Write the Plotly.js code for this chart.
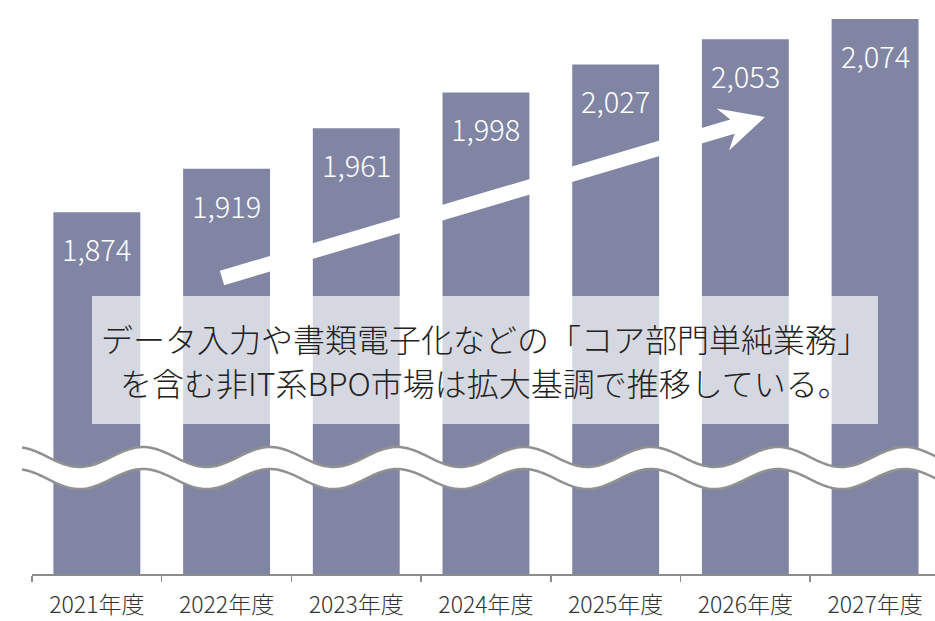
<!DOCTYPE html>
<html>
<head>
<meta charset="utf-8">
<script src="https://cdn.plot.ly/plotly-3.0.1.min.js"></script>
<style>
  html, body { margin: 0; padding: 0; background: #fff; }
  #graph { width: 935px; height: 621px; }
</style>
</head>
<body>
<div id="graph"></div>
<script>
const years = ['2021年度', '2022年度', '2023年度', '2024年度', '2025年度', '2026年度', '2027年度'];
const marketSize = [1874, 1919, 1961, 1998, 2027, 2053, 2074];
const noteLines = [
    'データ入力や書類電子化などの「コア部門単純業務」',
    'を含む非IT系BPO市場は拡大基調で推移している。'
];

const W = 935, H = 621;
const M = { l: 32, r: 0, t: 0, b: 47 };
const FONT = "'Noto Sans CJK JP', 'Noto Sans', sans-serif";

// pixel -> paper helpers for the decorations
function px(x) { return (x - M.l) / (W - M.l - M.r); }
function py(y) { return (H - M.b - y) / (H - M.t - M.b); }
function pathFrom(points, close) {
    let d = points.map((p, i) => (i ? 'L' : 'M') + px(p[0]).toFixed(5) + ',' + py(p[1]).toFixed(5)).join(' ');
    return close ? d + ' Z' : d;
}

// wavy axis break
function waveY(x) { return 457 - 10 * Math.cos(2 * Math.PI * (x - 143) / 127); }
const upper = [], lower = [];
for (let x = 22; x <= 942; x += 3) {
    upper.push([x, waveY(x)]);
    lower.push([x, waveY(x) + 22]);
}

// trend arrow
function arrowPoints() {
    const tail = [222, 278], tip = [765, 117];
    const dx = tip[0] - tail[0], dy = tip[1] - tail[1];
    const L = Math.hypot(dx, dy);
    const u = [dx / L, dy / L], n = [-u[1], u[0]];
    const pts = [[0, -7.5], [L - 34, -7.5], [L - 44, -22], [L, 0], [L - 44, 22], [L - 34, 7.5], [0, 7.5]];
    return pts.map(p => [tail[0] + u[0] * p[0] + n[0] * p[1], tail[1] + u[1] * p[0] + n[1] * p[1]]);
}

const trace = {
    type: 'bar',
    x: years,
    y: marketSize,
    marker: { color: '#8085a3' },
    hoverinfo: 'skip'
};

const annotations = marketSize.map((v, i) => ({
    x: years[i],
    y: v,
    xref: 'x', yref: 'y',
    yanchor: 'middle',
    yshift: -36,
    text: v.toLocaleString('en-US'),
    showarrow: false,
    font: { family: FONT, size: 29, color: '#ffffff', weight: 300 }
}));

noteLines.forEach((t, i) => {
    annotations.push({
        x: px(485), y: py(i === 0 ? 338 : 382),
        xref: 'paper', yref: 'paper',
        xanchor: 'center', yanchor: 'middle',
        text: t,
        showarrow: false,
        font: { family: FONT, size: 32, color: '#222222', weight: 300 }
    });
});

const shapes = [
    { type: 'path', xref: 'paper', yref: 'paper', layer: 'above',
      path: pathFrom(upper.concat(lower.slice().reverse()), true),
      fillcolor: '#ffffff', line: { width: 0 } },
    { type: 'path', xref: 'paper', yref: 'paper', layer: 'above',
      path: pathFrom(upper, false), line: { color: '#919191', width: 2.5 } },
    { type: 'path', xref: 'paper', yref: 'paper', layer: 'above',
      path: pathFrom(lower, false), line: { color: '#919191', width: 2.5 } },
    { type: 'path', xref: 'paper', yref: 'paper', layer: 'above',
      path: pathFrom(arrowPoints(), true), fillcolor: '#ffffff', line: { width: 0 } },
    { type: 'rect', xref: 'paper', yref: 'paper', layer: 'above',
      x0: px(92), x1: px(878), y0: py(424), y1: py(296),
      fillcolor: 'rgba(255,255,255,0.67)', line: { width: 0 } }
];

const layout = {
    width: W, height: H,
    margin: M,
    paper_bgcolor: '#ffffff',
    plot_bgcolor: '#ffffff',
    showlegend: false,
    bargap: 0.33,
    xaxis: {
        type: 'category',
        range: [-0.5, 6.462],
        showline: true, linecolor: '#8c8c8c', linewidth: 1.5,
        ticks: 'outside', tickson: 'boundaries', ticklen: 6, tickcolor: '#8c8c8c', tickwidth: 1.5,
        ticklabelstandoff: 10,
        tickfont: { family: FONT, size: 23, color: '#333333', weight: 300 },
        showgrid: false, zeroline: false, fixedrange: true
    },
    yaxis: {
        range: [1500, 2093.6],
        visible: false, showgrid: false, zeroline: false, fixedrange: true
    },
    shapes: shapes,
    annotations: annotations
};

Plotly.newPlot('graph', [trace], layout, { displayModeBar: false, staticPlot: true });
</script>
</body>
</html>
